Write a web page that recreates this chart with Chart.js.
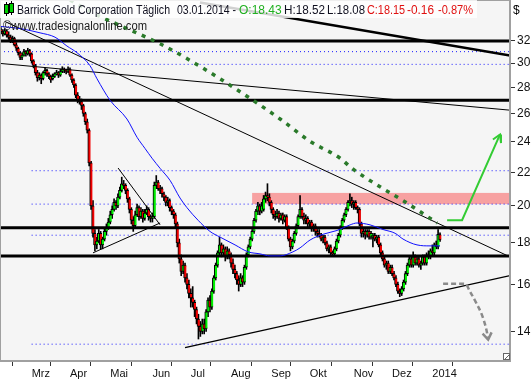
<!DOCTYPE html>
<html><head><meta charset="utf-8">
<script src="https://cdn.jsdelivr.net/npm/chart.js@4.4.1/dist/chart.umd.min.js"></script>
<style>html,body{margin:0;padding:0;background:#fff}#wrap{width:532px;height:380px;position:relative}</style>
</head><body><div id="wrap"><canvas id="c" width="532" height="380"></canvas></div>
<script>
// ---- data (daily candles, Barrick Gold) ----
const opens = [
33.0,32.8,32.6,32.9,32.5,32.3,32.0,32.2,31.6,31.3,
30.9,30.5,30.7,31.0,30.8,31.1,30.8,30.2,29.8,29.2,
28.8,29.0,28.7,29.2,29.4,29.1,28.9,28.7,28.9,
29.1,29.2,29.0,29.3,29.5,29.4,29.3,29.5,29.0,28.6,
28.2,27.4,27.0,26.9,26.6,26.0,25.4,24.8,22.6,20.0,
18.5,17.9,18.1,18.5,17.9,18.2,18.6,18.8,19.1,19.5,
19.8,20.2,20.0,20.5,20.9,21.3,21.2,20.9,20.4,19.8,
19.2,18.9,19.5,19.9,19.4,19.7,19.3,19.6,19.8,19.4,
19.3,19.4,21.2,21.4,21.0,21.0,20.7,20.5,20.2,
20.3,19.9,19.7,19.5,19.0,18.0,17.2,16.6,16.9,16.3,
16.0,15.6,15.4,15.2,14.9,14.5,14.2,14.0,14.3,14.1,
14.8,15.3,15.0,15.7,16.3,16.9,17.5,17.9,17.5,17.7,
17.3,17.6,17.4,17.0,16.7,16.5,16.2,16.0,16.3,16.1,
16.8,17.4,17.8,18.2,18.6,19.2,19.7,20.0,19.7,
19.8,20.4,20.6,20.5,20.2,19.8,19.5,19.4,19.6,19.3,
19.5,19.2,19.4,18.8,18.2,17.8,18.1,18.5,18.9,19.4,
19.8,19.4,19.2,19.3,19.0,19.1,18.8,18.9,18.6,18.5,
18.4,18.2,18.3,18.0,17.7,17.8,17.5,17.45,17.7,18.1,
18.4,18.8,19.2,19.5,19.8,20.2,20.3,20.1,20.2,19.9,
19.8,19.0,18.5,18.6,18.4,18.6,18.3,18.3,18.4,
18.2,18.3,17.9,17.5,17.2,16.9,17.0,16.6,16.8,16.5,
16.3,16.0,15.7,15.6,15.8,16.1,16.5,16.9,17.2,16.9,
17.3,17.0,17.2,16.9,17.0,17.3,17.0,17.4,17.3,17.6,
17.5,17.9,17.8,18.43];
const closes = [
32.8,32.6,32.9,32.5,32.3,32.0,32.2,31.6,31.3,30.9,
30.5,30.7,31.0,30.8,31.1,30.8,30.2,29.8,29.2,28.8,
29.0,28.7,29.2,29.4,29.1,28.9,28.6,28.9,29.1,
29.2,29.0,29.3,29.5,29.4,29.3,29.5,29.0,28.6,28.2,
27.4,27.0,26.9,26.6,26.0,25.4,24.8,22.6,20.0,18.5,
17.9,18.1,18.5,17.9,18.2,18.6,18.8,19.1,19.5,19.8,
20.2,20.0,20.5,20.9,21.3,21.2,20.9,20.4,19.8,19.2,
18.9,19.5,19.9,19.4,19.7,19.3,19.6,19.8,19.4,19.3,
19.4,21.2,21.4,21.0,20.9,20.7,20.5,20.2,20.3,
19.9,19.7,19.5,19.0,18.0,17.2,16.6,16.9,16.3,16.0,
15.6,15.4,15.2,14.9,14.5,14.2,14.0,14.3,14.1,14.8,
15.3,15.0,15.7,16.3,16.9,17.5,17.9,17.5,17.7,17.3,
17.6,17.4,17.0,16.7,16.5,16.2,16.0,16.3,16.1,16.8,
17.4,17.8,18.2,18.6,19.2,19.7,20.0,19.7,20.0,
20.4,20.6,20.5,20.2,19.8,19.5,19.4,19.6,19.3,19.5,
19.2,19.4,18.8,18.2,17.8,18.1,18.5,18.9,19.4,19.8,
19.4,19.2,19.3,19.0,19.1,18.8,18.9,18.6,18.5,18.4,
18.2,18.3,18.0,17.7,17.8,17.5,17.45,17.7,18.1,18.4,
18.8,19.2,19.5,19.8,20.2,20.3,20.1,20.2,19.9,19.8,
19.0,18.5,18.6,18.4,18.6,18.3,18.5,18.4,18.2,
18.3,17.9,17.5,17.2,16.9,17.0,16.6,16.8,16.5,16.3,
16.0,15.7,15.6,15.8,16.1,16.5,16.9,17.2,16.9,17.3,
17.0,17.2,16.9,17.0,17.3,17.0,17.4,17.3,17.6,17.5,
17.9,17.8,18.45,18.15];
const highs = [
33.2,33.0,33.1,33.0,32.8,32.5,32.4,32.3,31.8,31.4,
31.0,30.9,31.2,31.1,31.3,31.2,30.9,30.3,29.9,29.4,
29.2,29.1,29.3,29.6,29.5,29.2,29.0,29.1,29.2,
29.4,29.3,29.5,29.7,29.6,29.5,29.7,29.6,29.1,28.7,
28.3,27.6,27.3,27.1,26.7,26.1,25.6,24.9,22.7,20.3,
18.7,18.3,18.7,18.6,18.3,18.8,19.0,19.3,19.7,20.0,
20.4,20.3,20.7,21.1,21.7,21.5,21.3,21.0,20.5,19.9,
19.4,19.7,20.1,20.0,19.9,19.8,19.8,20.0,19.9,19.5,
19.6,21.4,21.8,21.5,21.2,21.1,20.8,20.6,20.5,
20.4,20.0,19.8,19.6,19.1,18.2,17.4,17.1,17.0,16.5,
16.2,15.8,15.9,15.3,15.0,14.7,14.4,14.5,14.5,14.9,
15.4,15.5,15.8,16.4,17.0,17.6,18.3,18.0,17.9,17.8,
17.8,17.7,17.5,17.2,16.9,16.6,16.4,16.5,16.4,16.9,
17.5,17.9,18.3,18.7,19.3,19.8,20.2,20.1,20.2,
20.6,20.8,21.3,20.7,20.3,19.9,19.7,19.8,19.7,19.6,
19.6,19.5,19.5,18.9,18.3,18.2,18.6,19.0,19.5,20.6,
19.9,19.6,19.5,19.4,19.2,19.2,19.0,19.0,18.7,18.7,
18.5,18.4,18.4,18.1,17.9,17.9,17.6,17.8,18.2,18.5,
18.9,19.3,19.6,19.9,20.3,20.7,20.5,20.3,20.3,20.0,
19.9,19.1,18.8,18.7,18.7,18.7,18.6,18.5,18.5,
18.4,18.4,18.0,17.6,17.3,17.1,17.1,16.9,16.9,16.6,
16.4,16.1,15.8,15.9,16.2,16.6,17.0,17.3,17.3,17.55,
17.4,17.3,17.3,17.1,17.4,17.4,17.5,17.6,17.7,17.9,
18.0,18.1,18.7,18.52];
const lows = [
32.6,32.4,32.5,32.3,32.1,31.8,31.8,31.5,31.1,30.7,
30.3,30.3,30.6,30.6,30.7,30.6,30.0,29.6,29.0,28.5,
28.6,28.3,28.6,29.0,28.9,28.7,28.4,28.6,28.8,
29.0,28.8,28.9,29.2,29.2,29.1,29.2,28.9,28.4,28.0,
27.2,26.8,26.7,26.3,25.8,25.2,24.6,22.4,19.8,18.3,
17.6,17.7,18.0,17.7,17.7,18.1,18.4,18.7,19.0,19.3,
19.7,19.8,19.9,20.4,20.8,21.0,20.7,20.2,19.6,19.0,
18.6,18.8,19.4,19.2,19.3,19.1,19.2,19.5,19.2,19.1,
19.1,19.3,21.0,20.9,20.7,20.5,20.3,20.0,20.0,
19.7,19.5,19.3,18.8,17.8,17.0,16.4,16.5,16.1,15.8,
15.4,15.0,15.0,14.6,14.3,13.7,13.8,13.9,13.9,14.0,
14.6,14.8,14.9,15.6,16.2,16.8,17.4,17.3,17.4,17.1,
17.2,17.2,16.8,16.5,16.3,16.0,15.7,15.9,15.9,16.0,
16.7,17.3,17.7,18.1,18.5,19.1,19.5,19.5,19.6,
19.7,20.2,20.3,20.0,19.6,19.3,19.2,19.3,19.1,19.2,
19.0,19.1,18.7,18.1,17.6,17.7,18.0,18.4,18.8,19.3,
19.3,19.0,19.0,18.8,18.8,18.6,18.6,18.4,18.3,18.3,
18.1,18.0,17.9,17.6,17.5,17.4,17.35,17.4,17.6,18.0,
18.3,18.7,19.1,19.4,19.7,20.0,19.9,19.8,19.8,19.6,
18.9,18.3,18.3,18.2,18.3,18.2,18.2,17.8,18.1,
18.0,17.8,17.4,17.1,16.8,16.7,16.5,16.5,16.4,16.2,
15.9,15.6,15.45,15.5,15.7,16.0,16.4,16.8,16.8,16.8,
16.9,16.9,16.8,16.7,16.9,16.9,16.9,17.2,17.2,17.4,
17.4,17.7,17.7,18.08];

// moving average (sampled points: bar index, value)
const maIdx = [0,10,20.4,28.2,34.4,39.7,46.4,50.1,56.9,65.7,71,75.1,78.8,83,88.2,93.4,97,102.8,109,114.3,122.1,128.9,135.1,140.3,145.6,152.3,156,161.2,168,175.3,182.1,185.7,192.5,199.3,205.6,209.7,217,223.8,229];
const maVal = [33.3,33.1,32.7,32.3,31.5,30.9,29.8,28.7,27.0,25.6,24.3,23.55,22.9,22.25,21.5,20.45,19.9,19.2,18.6,18.3,17.9,17.55,17.45,17.35,17.35,17.55,17.75,18.15,18.45,18.65,18.95,19.05,18.95,18.7,18.5,18.2,17.9,17.85,17.85];

// axis ticks
const monthIdx = [16,36,57,79,99,120,141,161,184,204,225];
const monthLabels = ['Mrz','Apr','Mai','Jun','Jul','Aug','Sep','Okt','Nov','Dez','2014'];
const yTicks = [14,16,18,20,22,24,26,28,30,32];

// drawn analysis (index, price)
const thickLevels = [31.95, 27.0, 18.8, 17.35];
const dottedLevels = [31.0, 29.9, 22.1, 20.1, 18.4, 13.5];
const dottedFrom = [-0.5, 16, 16, 16, 16, 16];
const trendA = [[2.1,33.77],[265.5,17.3]];
const trendB = [[-0.5,29.98],[265.5,26.25]];
const trendC = [[103.8,35.64],[265.5,30.67]];
const supportD = [[96,13.37],[265.5,16.4]];
const triLow = [[48,17.5],[83,19.05]];
const triUp = [[61.1,22.27],[83,18.95]];
const curveIdx = [36,49.1,65.7,83,98.6,114.3,129.9,145.6,161.2,176.9,183.1,195.1,209.7,227.5];
const curveVal = [35.9,34.5,33.1,31.7,30.24,28.7,27.15,25.6,24.03,22.9,22.25,21.3,20.3,19.05];
const upArrow = [[232.7,19.2],[240.5,19.2],[260.3,24.5]];
const upHead = [[256.6,24.15],[260.3,24.5],[260.8,23.91]];
const downArrow = [[230.6,16.03],[242.1,16.03],[244.7,15.67],[247.8,15.19],[251,14.64],[253.5,13.96],[254.1,13.68]];
const downHead = [[251.2,13.91],[254.1,13.68],[255.9,13.96]];
const zoneFrom = 131, zoneLo = 20.1, zoneHi = 20.75;
const NSLOT = 266;

// ---- build ----
const labels = Array.from({length: NSLOT}, (_, k) => k);
const pts = a => a.map(p => ({x: p[0], y: p[1]}));
function lineDs(data, color, width, order, extra) {
  return Object.assign({type:'line', xAxisID:'xl', data, borderColor:color, borderWidth:width,
    pointRadius:0, fill:false, tension:0, order}, extra || {});
}
const datasets = [];
dottedLevels.forEach((v,k) => datasets.push(lineDs(pts([[dottedFrom[k],v],[265.5,v]]), '#1a1aff', 1, 20, {borderDash:[1,3]})));
datasets.push({type:'bar', label:'wick', data: lows.map((l,k)=>[l, highs[k]]), backgroundColor:'#000', borderWidth:0,
  barThickness:1, grouped:false, order:15, minBarLength:1});
datasets.push({type:'bar', label:'body', data: opens.map((o,k)=>[o, closes[k]]),
  backgroundColor: opens.map((o,k)=> closes[k] >= o ? '#00f000' : '#f00000'),
  borderColor:'#000', borderWidth:{left:1, right:0, top:1, bottom:1}, borderSkipped:false, barThickness:2.8,
  grouped:false, order:14, minBarLength:1});
thickLevels.forEach(v => datasets.push(lineDs(pts([[-0.5,v],[265.5,v]]), '#000', 3, 12)));
datasets.push(lineDs(pts(trendA), '#000', 1, 11));
datasets.push(lineDs(pts(trendB), '#000', 1, 11));
datasets.push(lineDs(pts(trendC), '#000', 2.5, 11));
datasets.push(lineDs(pts(supportD), '#000', 1.3, 11));
datasets.push(lineDs(pts(triLow), '#000', 1, 11));
datasets.push(lineDs(pts(triUp), '#000', 1, 11));
datasets.push(lineDs(maIdx.map((x,k)=>({x, y:maVal[k]})), '#1010ff', 1, 10, {cubicInterpolationMode:'monotone'}));
datasets.push(lineDs(curveIdx.map((x,k)=>({x, y:curveVal[k]})), '#2a7a2a', 3.5, 9, {cubicInterpolationMode:'monotone', borderDash:[4,6]}));
datasets.push(lineDs(pts(upArrow), '#33cc33', 2, 8));
datasets.push(lineDs(pts(upHead), '#33cc33', 2, 8));
datasets.push(lineDs(pts(downArrow), '#8a8a8a', 2.5, 8, {cubicInterpolationMode:'monotone', borderDash:[5,3]}));
datasets.push(lineDs(pts(downHead), '#8a8a8a', 2.5, 8));

function fitText(ctx, txt, x, y, w) {
  const m = ctx.measureText(txt).width;
  const s = Math.min(1, w / m);
  ctx.save(); ctx.translate(x, y); ctx.scale(s, 1); ctx.fillText(txt, 0, 0); ctx.restore();
}

const bgPlugin = {
  id:'bg',
  beforeDraw(chart) {
    const {ctx, chartArea:a} = chart;
    ctx.save();
    ctx.fillStyle = '#fff'; ctx.fillRect(0,0,chart.width,chart.height);
    ctx.fillStyle = '#f5f5f5'; ctx.fillRect(a.left,a.top,a.right-a.left,a.bottom-a.top);
    const xs = chart.scales.xl, ys = chart.scales.y;
    const x1 = xs.getPixelForValue(zoneFrom), yT = ys.getPixelForValue(zoneHi), yB = ys.getPixelForValue(zoneLo);
    ctx.fillStyle = '#f7a1a1'; ctx.fillRect(x1, yT, a.right - x1, yB - yT);
    ctx.restore();
  },
  afterDatasetsDraw(chart) {
    const {ctx, chartArea:a} = chart;
    ctx.save();
    ctx.strokeStyle = '#a0a0a0'; ctx.lineWidth = 1;
    ctx.strokeRect(a.left+0.5, a.top+0.5, a.right-a.left-1, a.bottom-a.top-1);
    // header box
    ctx.fillStyle = 'rgba(255,255,255,0.82)'; ctx.fillRect(0,0,477,18);
    // icon
    ctx.strokeStyle = '#000'; ctx.lineWidth = 1;
    ctx.beginPath(); ctx.moveTo(6.5,2); ctx.lineTo(6.5,16); ctx.moveTo(11.5,1); ctx.lineTo(11.5,15); ctx.stroke();
    ctx.fillStyle = '#00d000'; ctx.fillRect(5,5,3,8); ctx.fillRect(10,4,3,8);
    ctx.strokeRect(4.5,4.5,4,9); ctx.strokeRect(9.5,3.5,4,9);
    ctx.font = '12px "Liberation Sans", Arial, sans-serif'; ctx.textBaseline = 'alphabetic';
    const segs = [['Barrick Gold Corporation T\u00e4glich',17,153,'#101020'],['03.01.2014 -',177,59,'#101020'],['O:18.43',239,43,'#20b020'],
      ['H:18.52',284,41,'#101020'],['L:18.08',327,38,'#101020'],['C:18.15',367,38,'#e01010'],['-0.16',407,27,'#e01010'],['-0.87%',438,35,'#e01010']];
    segs.forEach(s => { ctx.fillStyle = s[3]; fitText(ctx, s[0], s[1], 13.5, s[2]); });
    ctx.fillStyle = '#202020'; ctx.font = '12.5px "Liberation Sans", Arial, sans-serif';
    fitText(ctx, '\u00a9www.tradesignalonline.com', 3, 30, 144);
    ctx.fillStyle = '#000'; ctx.font = '12px "Liberation Sans", Arial, sans-serif';
    ctx.fillText('$', 513, 14);
    // resize grip
    ctx.strokeStyle = '#666'; ctx.fillStyle = '#fff';
    ctx.fillRect(503.5,353.5,6,6); ctx.strokeRect(503.5,353.5,6,6);
    ctx.beginPath(); ctx.moveTo(505,359); ctx.lineTo(509,355); ctx.stroke();
    ctx.restore();
  }
};

new Chart(document.getElementById('c'), {
  type:'bar',
  data:{labels, datasets},
  options:{
    responsive:false, animation:false, devicePixelRatio:1, events:[],
    layout:{padding:0},
    plugins:{legend:{display:false}, tooltip:{enabled:false}},
    scales:{
      x:{type:'category', display:false, offset:true},
      xl:{type:'linear', position:'bottom', min:-0.5, max:265.5, offset:false, bounds:'data',
        afterBuildTicks: s => { s.ticks = monthIdx.map(v => ({value:v})); },
        afterFit: s => { s.height = 19; s.paddingLeft = 0; s.paddingRight = 0; },
        grid:{drawOnChartArea:false, drawTicks:true, tickLength:5, color:'#333'},
        border:{display:true, color:'#a0a0a0'},
        ticks:{autoSkip:false, maxRotation:0, minRotation:0, align:'start', padding:1, color:'#111',
          font:{family:'"Liberation Sans", Arial, sans-serif', size:11},
          callback: v => { const k = monthIdx.indexOf(v); return k >= 0 ? monthLabels[k] : ''; }}
      },
      y:{type:'logarithmic', position:'right', min:12.87, max:35.9, bounds:'data',
        afterBuildTicks: s => { s.ticks = yTicks.map(v => ({value:v})); },
        afterFit: s => { s.width = 22; s.paddingTop = 0; s.paddingBottom = 0; },
        grid:{drawOnChartArea:false, drawTicks:true, tickLength:5, color:'#333'},
        border:{display:true, color:'#a0a0a0'},
        ticks:{padding:2, color:'#111', font:{family:'"Liberation Sans", Arial, sans-serif', size:12},
          callback: v => String(v)}
      }
    }
  },
  plugins:[bgPlugin]
});
</script></body></html>
